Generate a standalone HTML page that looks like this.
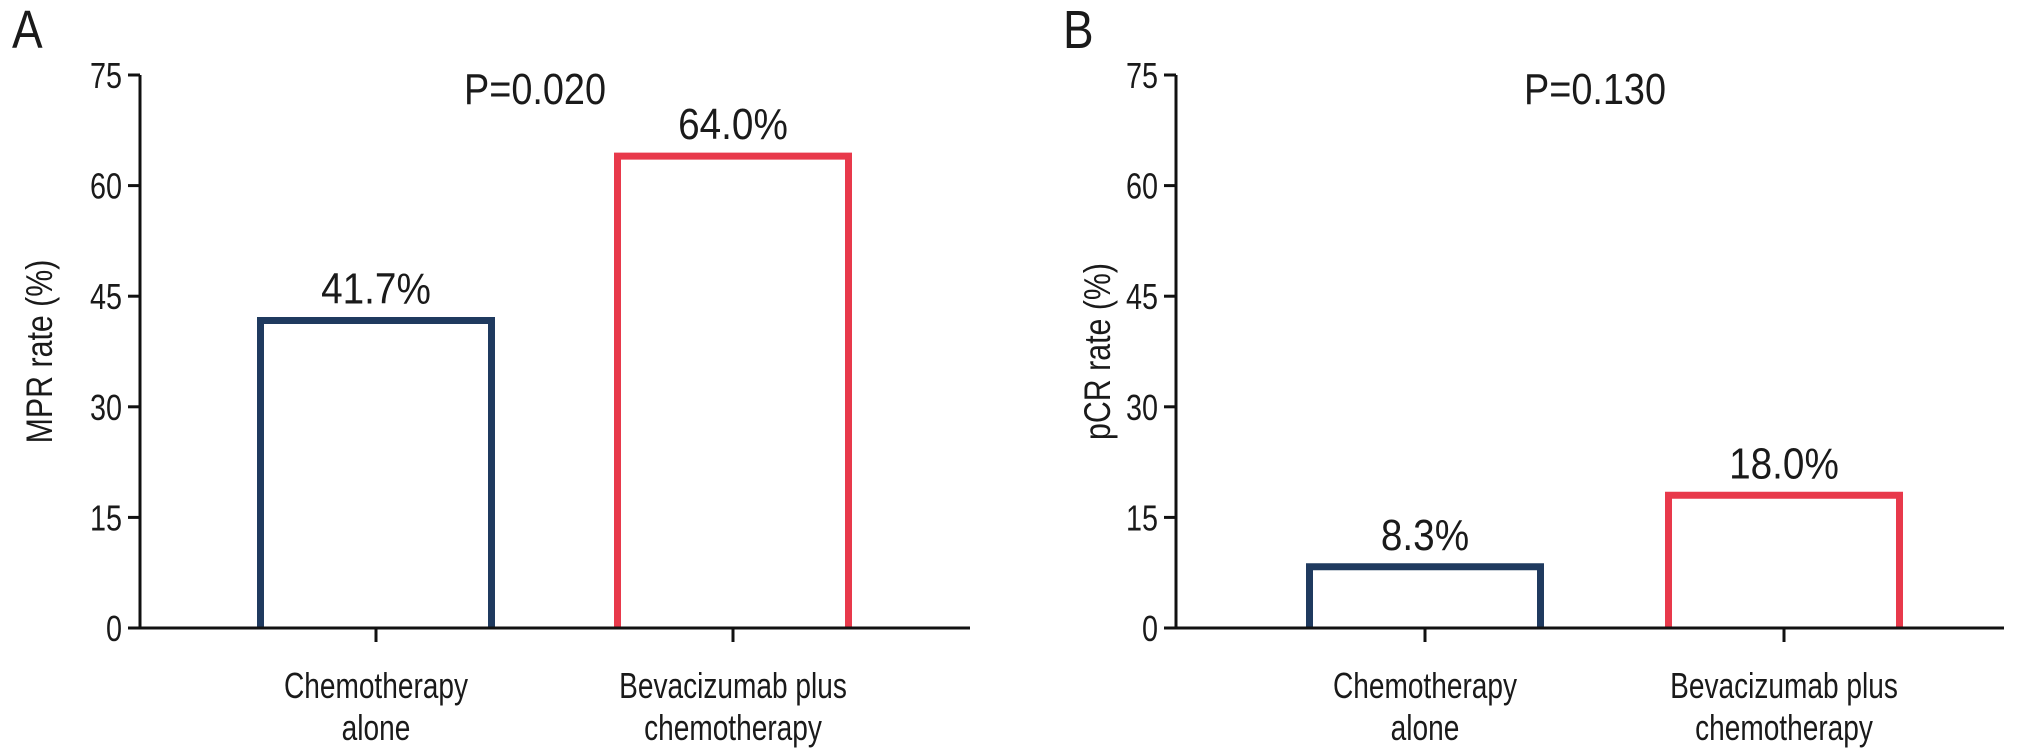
<!DOCTYPE html>
<html><head><meta charset="utf-8"><style>
html,body{margin:0;padding:0;background:#fff;}
svg{display:block;font-family:"Liberation Sans",Arial,sans-serif;}
</style></head><body>
<svg id="chart" width="2032" height="748" viewBox="0 0 2032 748" xmlns="http://www.w3.org/2000/svg"></svg>
<script>
const categories = ["Chemotherapy|alone", "Bevacizumab plus|chemotherapy"];
const mprValues = [41.7, 64.0];
const pcrValues = [8.3, 18.0];
const yTicks = [0, 15, 30, 45, 60, 75];
const barColors = ["#1f3a5f", "#e8394b"];
const panels = [
  {letter:"A", title:"MPR rate (%)", pval:"P=0.020", values:mprValues, axisX:140, xEnd:970, centers:[376,733], letterX:12, pX:535, titleX:52},
  {letter:"B", title:"pCR rate (%)", pval:"P=0.130", values:pcrValues, axisX:1176, xEnd:2004, centers:[1425,1784], letterX:1063, pX:1595, titleX:1110}
];
const svg = document.getElementById('chart');
const NS = "http://www.w3.org/2000/svg";
const yTop = 75, yBot = 628, yMax = 75;
function yScale(v){ return yBot - (v / yMax) * (yBot - yTop); }
function mk(tag, attrs, parent){
  const e = document.createElementNS(NS, tag);
  for (const k in attrs) e.setAttribute(k, attrs[k]);
  (parent || svg).appendChild(e);
  return e;
}
function txt(parent, x, y, size, sx, anchor, str, rot){
  const t = mk('text', {x:0, y:0, 'font-size':size, 'text-anchor':anchor, fill:'#1a1a1a',
    transform:`translate(${x},${y})${rot ? ' rotate(-90)' : ''} scale(${sx},1)`}, parent);
  t.textContent = str;
  return t;
}
const barW = 231;
panels.forEach((p, pi) => {
  const g = mk('g', {});
  
  
  const L = txt(g, p.letterX, 48, 54, 0.85, 'start', p.letter);
  
  
  const ya = mk('line', {x1:p.axisX, y1:yTop, x2:p.axisX, y2:yBot, stroke:'#111', 'stroke-width':3}, g);
  
  
  yTicks.forEach(t => {
    const y = yScale(t);
    const tl = mk('line', {x1:p.axisX-12, y1:y, x2:p.axisX, y2:y, stroke:'#111', 'stroke-width':3}, g);
    
    
    const tx = txt(g, p.axisX-18, y+13, 36, 0.8, 'end', String(t));
    
    
  });
  const yt = txt(g, p.titleX, yScale(37.5), 37, 0.82, 'middle', p.title, true);
  
  
  p.values.forEach((v, i) => {
    const cx = p.centers[i];
    const y = yScale(v);
    const r = mk('path', {d:`M${cx-barW/2},${yBot} L${cx-barW/2},${y} L${cx+barW/2},${y} L${cx+barW/2},${yBot}`, fill:'none', stroke:barColors[i], 'stroke-width':7}, g);
    
    
    const vl = txt(g, cx, y-17, 44, 0.88, 'middle', v.toFixed(1) + '%');
    
    
    const xt = mk('line', {x1:cx, y1:yBot, x2:cx, y2:yBot+14, stroke:'#111', 'stroke-width':3}, g);
    
    
    categories[i].split('|').forEach((line, li) => {
      const ct = txt(g, cx, 698 + li*42, 36, 0.78, 'middle', line);
      
      
    });
  });
  const xa = mk('line', {x1:p.axisX-12, y1:yBot, x2:p.xEnd, y2:yBot, stroke:'#111', 'stroke-width':3}, g);
  
  
  const pv = txt(g, p.pX, 104, 44, 0.86, 'middle', p.pval);
  
  
});
</script>
</body></html>
